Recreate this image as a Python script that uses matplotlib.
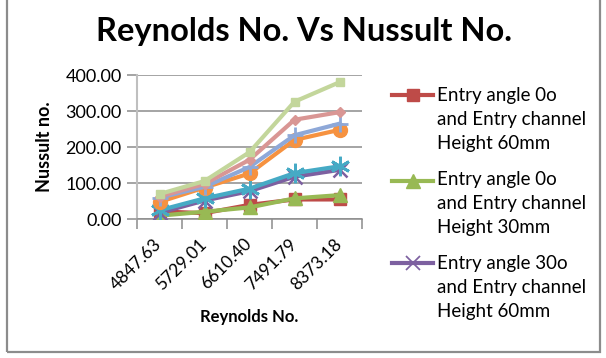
import matplotlib
matplotlib.use("Agg")
import matplotlib.pyplot as plt
from matplotlib.lines import Line2D
import numpy as np

categories = ["4847.63", "5729.01", "6610.40", "7491.79", "8373.18"]

s_red = [22, 17, 40, 55, 55]
s_green = [10, 21, 33, 58, 67]
s_purple = [18, 52, 78, 118, 137]
s_teal = [25, 58, 85, 128, 147]
s_orange = [48, 88, 127, 220, 248]
s_lblue = [60, 90, 145, 233, 265]
s_pink = [63, 98, 165, 276, 297]
s_lgreen = [70, 106, 186, 326, 380]

labels = [
    "Entry angle 0o\nand Entry channel\nHeight 60mm",
    "Entry angle 0o\nand Entry channel\nHeight 30mm",
    "Entry angle 30o\nand Entry channel\nHeight 60mm",
    "Entry angle 30o\nand Entry channel\nHeight 30mm",
    "Entry angle 45o\nand Entry channel\nHeight 60mm",
    "Entry angle 45o\nand Entry channel\nHeight 30mm",
    "Entry angle 60o\nand Entry channel\nHeight 60mm",
    "Entry angle 60o\nand Entry channel\nHeight 30mm",
]

series = [s_red, s_green, s_purple, s_teal, s_orange, s_lblue, s_pink, s_lgreen]
colors = ["#BE4B48", "#98B954", "#7D60A0", "#46AAC5", "#F69240", "#8EA8D8", "#D99694", "#C3D69B"]
markers = ["s", "^", "x", (6, 2, 0), "o", "+", "D", "s"]
msizes = [9, 10, 10, 14, 10, 12, 5, 6]
mews = [1, 1, 1.8, 2, 1, 2, 1, 1]

plt.rcParams['font.family'] = ['Lato', 'DejaVu Sans']

fig = plt.figure(figsize=(6.06, 3.58), dpi=100)
fig.patch.set_facecolor("white")
W, H = 606, 358

def fx(px):
    return px / W

def fy(py):
    return 1 - py / H

# outer frame
frame = plt.Rectangle((fx(6.7), fy(352)), (600 - 6.7) / W, 1.2, transform=fig.transFigure,
                      fill=False, edgecolor="#8C8C8C", linewidth=1.6)
fig.add_artist(frame)

ax = fig.add_axes([fx(137), fy(219.3), (362 - 137) / W, (219.3 - 75) / H])

x = np.arange(len(categories))
for i, (vals, c, m, ms, mw) in enumerate(zip(series, colors, markers, msizes, mews)):
    ax.plot(x, vals, color=c, linewidth=3, marker=m, markersize=ms,
            markeredgewidth=mw, markeredgecolor=c, markerfacecolor=c,
            label=labels[i], zorder=3 + i, solid_joinstyle='round')

ax.set_xlim(-0.5, len(categories) - 0.5)
ax.set_ylim(0, 400)
ax.set_yticks([0, 100, 200, 300, 400])
ax.set_yticklabels(["0.00", "100.00", "200.00", "300.00", "400.00"], fontsize=13)
ax.yaxis.grid(True, color="#8C8C8C", linewidth=1.1)
ax.set_axisbelow(True)

ax.set_xticks(np.arange(-0.5, len(categories), 1.0))
ax.set_xticklabels([])
ax.set_xticks(x, minor=True)
ax.set_xticklabels(categories, minor=True, rotation=45, ha="right", va="center",
                   rotation_mode="anchor", fontsize=12.5)
ax.tick_params(axis="x", which="minor", length=0, pad=16)
ax.tick_params(axis="x", which="major", length=7, color="#8C8C8C", width=1.1)
ax.tick_params(axis="y", length=7, color="#8C8C8C", width=1.1, pad=4)

for s in ["top", "right"]:
    ax.spines[s].set_visible(False)
ax.spines["left"].set_color("#BFBFBF")
ax.spines["left"].set_linewidth(1.5)
ax.spines["bottom"].set_color("#8C8C8C")
ax.spines["bottom"].set_linewidth(1.1)

fig.text(fx(304), fy(31), "Reynolds No. Vs Nussult No.", ha="center", va="center",
         fontsize=23.5, fontweight="bold")
fig.text(fx(45), fy(147), "Nussult no.", rotation=90, ha="center", va="center",
         fontsize=13, fontweight="bold")
fig.text(fx(249), fy(317), "Reynolds No.", ha="center", va="center",
         fontsize=12, fontweight="bold")

# legend (only the first three entries are visible in the reference)
entry_y = [95, 179, 263]
line_gap = 24
for i in range(3):
    yy = entry_y[i]
    off = 2 if markers[i] == "^" else 0
    fig.add_artist(Line2D([fx(392), fx(433)], [fy(yy + off), fy(yy + off)],
                          transform=fig.transFigure, color=colors[i], linewidth=3))
    fig.add_artist(Line2D([fx(412.5)], [fy(yy + off)], transform=fig.transFigure,
                          color=colors[i], marker=markers[i], markersize=msizes[i],
                          markeredgewidth=mews[i] * 0.7 if markers[i] == "x" else mews[i],
                          markeredgecolor=colors[i],
                          markerfacecolor=colors[i], linestyle="none"))
    for j, line in enumerate(labels[i].split("\n")):
        fig.text(fx(437), fy(yy + j * line_gap), line, ha="left", va="center",
                 fontsize=13.5)

fig.savefig("out.png", dpi=100, facecolor="white")
